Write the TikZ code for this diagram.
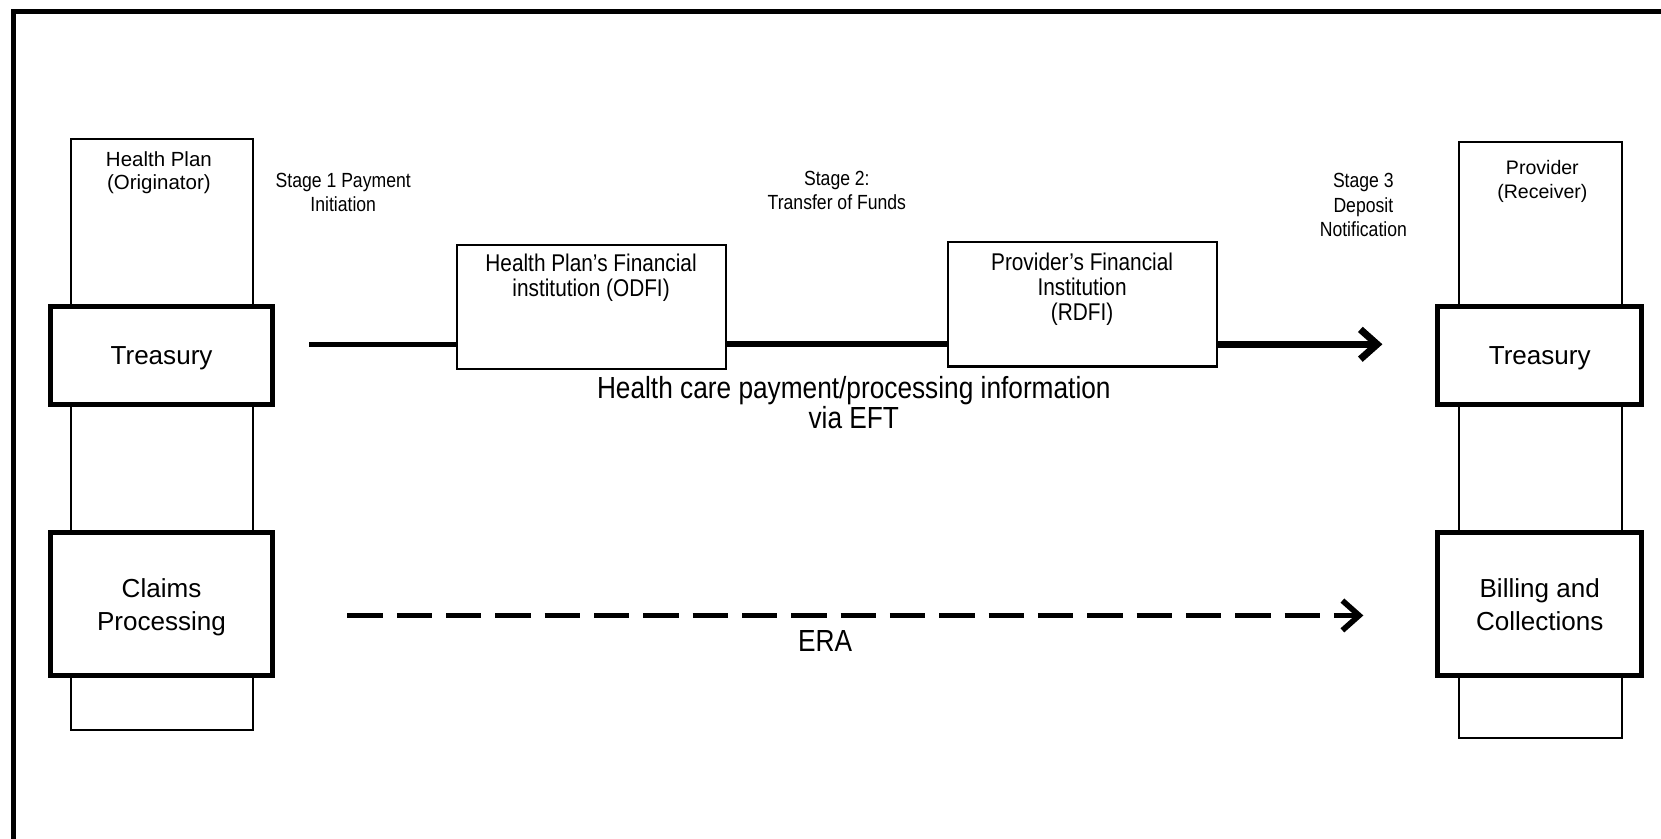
\documentclass[tikz,border=0pt]{standalone}
\usepackage{fontspec}
\setmainfont{Liberation Sans}
\newfontfamily\narrowfont[FakeStretch=0.86]{Liberation Sans}
\usetikzlibrary{arrows.meta}
\usetikzlibrary{positioning}

\begin{document}
\begin{tikzpicture}[x=0.02cm,y=-0.02cm,>={Straight Barb[length=9pt,width=16pt]},
	column/.style={draw,line width=1.1pt,inner sep=0pt},
	dept/.style={draw,fill=white,line width=2.7pt,align=center,inner sep=0pt,text depth=0pt,font=\fontsize{14}{18}\selectfont},
	party/.style={align=center,font=\fontsize{11}{12.5}\selectfont},
	bank/.style={draw,line width=1.1pt,inner sep=0pt,minimum width=5.08cm,minimum height=2.34cm},
	banktext/.style={align=center,font=\narrowfont\fontsize{13}{13.5}\selectfont},
	stagetext/.style={align=center,font=\narrowfont\fontsize{11}{13}\selectfont},
	flowtext/.style={align=center,font=\narrowfont\fontsize{16.4}{16}\selectfont}]
	\useasboundingbox (0,0) rectangle (1568,792);
	\draw[line width=2.7pt] (12.3,792) -- (12.3,10.4) -- (1568,10.4);

	\node[column,minimum width=3.44cm,minimum height=11.16cm] (hpcol) at (153,410) {};
	\node[column,minimum width=3.08cm,minimum height=11.26cm] (provcol) at (1454,415.5) {};
	\node[dept,minimum width=4.18cm,minimum height=1.86cm] (hptreas) at (152.5,335.5) {Treasury};
	\node[dept,minimum width=4.18cm,minimum height=2.7cm] (claims) at (152.5,570.5) {Claims\\Processing};
	\node[dept,minimum width=3.86cm,minimum height=1.86cm] (provtreas) at (1453.5,335.5) {Treasury};
	\node[dept,minimum width=3.86cm,minimum height=2.7cm] (billing) at (1453.5,570.5) {Billing and\\Collections};
	\node[party] (hplabel) at (150,163) {Health Plan\\(Originator)};
	\node[party,font=\fontsize{10.5}{13}\selectfont] (provlabel) at (1456,171) {Provider\\(Receiver)};

	\node[bank] (odfi) at (558,289.5) {};
	\node[banktext,below=2pt of odfi.north] (odfitext) {Health Plan’s Financial\\institution (ODFI)};
	\node[bank,minimum height=2.36cm] (rdfi) at (1021.5,287) {};
	\node[banktext,below=3pt of rdfi.north] (rdfitext) {Provider’s Financial\\Institution\\(RDFI)};

	\node[stagetext] (stage1) at (324,181.5) {Stage 1 Payment\\Initiation};
	\node[stagetext] (stage2) at (790,180) {Stage 2:\\Transfer of Funds};
	\node[stagetext] (stage3) at (1287,193.5) {Stage 3\\Deposit\\Notification};

	\coordinate (eftstart) at (292,325);
	\coordinate (eftend) at (1305,325);
	\draw[line width=2.8pt] (eftstart) -- (eftstart -| odfi.west);
	\draw[line width=3.2pt] (odfi.east |- eftstart) -- (rdfi.west |- eftstart);
	\draw[->,line width=3.8pt] (rdfi.east |- eftstart) -- (eftend);
	\node[flowtext] (eft) at (806,380) {Health care payment/processing information\\via EFT};

	\coordinate (erastart) at (328,581);
	\coordinate (eraend) at (1287,581);
	\draw[->,line width=3pt,dash pattern=on 19pt off 7.5pt] (erastart) -- (eraend);
	\node[flowtext] (era) at (779,605) {ERA};
\end{tikzpicture}
\end{document}
